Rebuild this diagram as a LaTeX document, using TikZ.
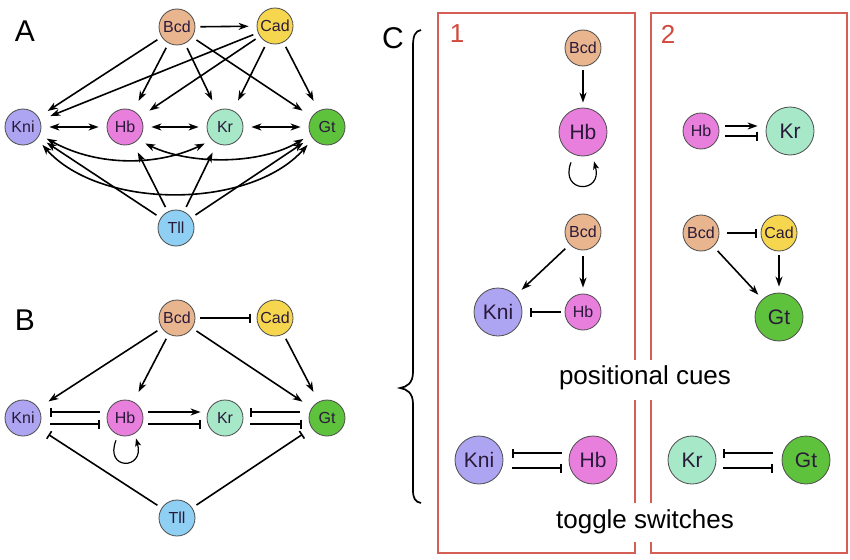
\documentclass[tikz,border=0pt]{standalone}
\usepackage{fontspec}
\setmainfont{Liberation Sans}
\usetikzlibrary{arrows.meta,calc}
\definecolor{bcdc}{HTML}{E9B58F}
\definecolor{cadc}{HTML}{F6D64E}
\definecolor{knic}{HTML}{ADA5F2}
\definecolor{hbc}{HTML}{E87FDD}
\definecolor{krc}{HTML}{A6E8C8}
\definecolor{gtc}{HTML}{5EC23C}
\definecolor{tllc}{HTML}{8ECFF3}
\definecolor{boxc}{HTML}{D65F55}
\definecolor{numc}{HTML}{D24A3E}
\definecolor{txtc}{HTML}{2A1A3A}
\tikzset{
  gn/.style={circle,draw=black!70,line width=0.8pt,minimum size=36pt,inner sep=0pt,
    font=\fontsize{16}{16}\selectfont,text=txtc},
  bign/.style={gn,minimum size=48pt,font=\fontsize{21}{21}\selectfont},
  mytip/.tip={Stealth[length=10pt,width=7pt,inset=3pt]},
  act/.style={line width=1.6pt,-mytip,shorten >=10pt,shorten <=5pt},
  dbl/.style={line width=1.6pt,mytip-mytip,shorten >=8pt,shorten <=8pt},
  inh/.style={line width=1.6pt,-{Bar[width=9pt,line width=1.6pt]}},
  lbl/.style={font=\fontsize{30}{30}\selectfont},
  num/.style={font=\fontsize{26}{26}\selectfont,text=numc},
  captxt/.style={font=\fontsize{26}{26}\selectfont},
  boxline/.style={draw=boxc,line width=1.5pt},
  loopl/.style={line width=1.2pt,-{Stealth[length=8pt,width=6pt,inset=2pt]}},
}
\begin{document}
\begin{tikzpicture}[x=1pt,y=-1pt]
\useasboundingbox (0,0) rectangle (850,559);
\fill[white] (0,0) rectangle (850,559);

% ---------- Panel A ----------
\node[lbl] (la) at (25,31) {A};
\node[gn,fill=bcdc] (aBcd) at (177,27) {Bcd};
\node[gn,fill=cadc] (aCad) at (275,26) {Cad};
\node[gn,fill=knic] (aKni) at (23,127) {Kni};
\node[gn,fill=hbc]  (aHb)  at (125,127) {Hb};
\node[gn,fill=krc]  (aKr)  at (225,127) {Kr};
\node[gn,fill=gtc]  (aGt)  at (327,127) {Gt};
\node[gn,fill=tllc] (aTll) at (176,228) {Tll};

\draw[act,shorten >=8pt] (aBcd) -- (aCad);
\foreach \t in {aKni,aHb,aKr,aGt}{
  \draw[act,shorten >=11pt] (aBcd) -- (\t);
  \draw[act,shorten >=11pt] (aCad) -- (\t);
  \draw[act] (aTll) -- (\t);
}
\draw[dbl] (aKni) -- (aHb);
\draw[dbl] (aHb) -- (aKr);
\draw[dbl] (aKr) -- (aGt);
\draw[dbl] (aKni.-25) .. controls (100,168) and (160,165) .. (aKr.-135);
\draw[dbl] (aHb.-45) .. controls (190,165) and (260,165) .. (aGt.-155);
\draw[dbl] (aKni.-40) .. controls (100,210) and (250,210) .. (aGt.-140);

% ---------- Panel B ----------
\node[lbl] (lb) at (25,320) {B};
\node[gn,fill=bcdc] (bBcd) at (177,318) {Bcd};
\node[gn,fill=cadc] (bCad) at (275,318) {Cad};
\node[gn,fill=knic] (bKni) at (23,418) {Kni};
\node[gn,fill=hbc]  (bHb)  at (125,418) {Hb};
\node[gn,fill=krc]  (bKr)  at (225,418) {Kr};
\node[gn,fill=gtc]  (bGt)  at (327,418) {Gt};
\node[gn,fill=tllc] (bTll) at (177,518) {Tll};

\draw[inh,shorten <=5pt,shorten >=6pt] (bBcd) -- (bCad);
\draw[act,shorten >=12pt] (bBcd) -- (bKni);
\draw[act,shorten >=11pt] (bBcd) -- (bHb);
\draw[act,shorten >=11pt] (bBcd) -- (bGt);
\draw[act,shorten >=11pt] (bCad) -- (bGt);
\draw[inh,shorten <=5pt,shorten >=12pt] (bTll) -- (bKni);
\draw[inh,shorten <=5pt,shorten >=11pt] (bTll) -- (bGt);
% Kni - Hb
\draw[inh] ([xshift=-7pt,yshift=6pt]bHb.west) -- ([xshift=9pt,yshift=6pt]bKni.east);
\draw[inh] ([xshift=9pt,yshift=-6pt]bKni.east) -- ([xshift=-7pt,yshift=-6pt]bHb.west);
% Hb - Kr
\draw[line width=1.6pt,-mytip] ([xshift=5pt,yshift=6pt]bHb.east) -- ([xshift=-6pt,yshift=6pt]bKr.west);
\draw[inh] ([xshift=5pt,yshift=-6pt]bHb.east) -- ([xshift=-6pt,yshift=-6pt]bKr.west);
% Kr - Gt
\draw[inh] ([xshift=-9pt,yshift=6pt]bGt.west) -- ([xshift=7pt,yshift=6pt]bKr.east);
\draw[inh] ([xshift=7pt,yshift=-6pt]bKr.east) -- ([xshift=-7pt,yshift=-6pt]bGt.west);
% self loop
\draw[loopl]
  ([xshift=-9pt,yshift=-4pt]bHb.south) .. controls +(-12,30) and +(9,32) .. ([xshift=11pt,yshift=-2pt]bHb.south);

% ---------- Panel C ----------
\node[lbl] (lc) at (393,38) {C};
\draw[line width=1.7pt] (421,30) .. controls (415,31) and (413,36) .. (413,46) -- (413,372)
  .. controls (413,383) and (407,387) .. (400,388) .. controls (407,389) and (413,393) .. (413,404)
  -- (413,490) .. controls (413,498) and (415,502) .. (421,503);

% boxes
\draw[boxline] (635,360) -- (635,13) -- (438,13) -- (438,553) -- (635,553) -- (635,542);
\draw[boxline] (635,400) -- (635,503);
\draw[boxline] (651,360) -- (651,13) -- (847,13) -- (847,553) -- (651,553) -- (651,542);
\draw[boxline] (651,400) -- (651,503);
\node[num] (n1) at (457,34) {1};
\node[num] (n2) at (668,34) {2};

% box 1
\node[gn,fill=bcdc] (c1Bcd) at (583,48) {Bcd};
\node[bign,fill=hbc] (c1Hb) at (583,132) {Hb};
\draw[act,shorten <=4pt,shorten >=5pt] (c1Bcd) -- (c1Hb);
\draw[loopl]
  ([xshift=-12pt,yshift=-6pt]c1Hb.south) .. controls +(-12,31) and +(9,33) .. ([xshift=11pt,yshift=-5pt]c1Hb.south);

\node[gn,fill=bcdc] (c1Bcd2) at (583,232) {Bcd};
\node[bign,fill=knic] (c1Kni) at (498,312) {Kni};
\node[gn,fill=hbc] (c1Hb2) at (583,312) {Hb};
\draw[act,shorten <=6pt,shorten >=8pt] (c1Bcd2) -- (c1Kni);
\draw[act,shorten <=6pt,shorten >=6pt] (c1Bcd2) -- (c1Hb2);
\draw[inh,shorten <=4pt,shorten >=8pt] (c1Hb2) -- (c1Kni);

% box 2
\node[gn,fill=hbc] (c2Hb) at (701,131) {Hb};
\node[bign,fill=krc] (c2Kr) at (790,131) {Kr};
\draw[line width=1.6pt,-mytip] ([xshift=6pt,yshift=5pt]c2Hb.east) -- ([xshift=-8pt,yshift=5pt]c2Kr.west);
\draw[inh] ([xshift=6pt,yshift=-5pt]c2Hb.east) -- ([xshift=-8pt,yshift=-5pt]c2Kr.west);

\node[gn,fill=bcdc] (c2Bcd) at (701,233) {Bcd};
\node[gn,fill=cadc] (c2Cad) at (779,233) {Cad};
\node[bign,fill=gtc] (c2Gt) at (779,317) {Gt};
\draw[inh,shorten <=8pt,shorten >=4pt] (c2Bcd) -- (c2Cad);
\draw[act,shorten <=6pt,shorten >=6pt] (c2Bcd) -- (c2Gt);
\draw[act,shorten <=4pt,shorten >=6pt] (c2Cad) -- (c2Gt);

\node[captxt] (pc) at (645,378) {positional cues};

% toggles
\node[bign,fill=knic] (t1Kni) at (479,460) {Kni};
\node[bign,fill=hbc] (t1Hb) at (593,460) {Hb};
\draw[inh] ([xshift=-7pt,yshift=7pt]t1Hb.west) -- ([xshift=9pt,yshift=7pt]t1Kni.east);
\draw[inh] ([xshift=9pt,yshift=-8pt]t1Kni.east) -- ([xshift=-7pt,yshift=-8pt]t1Hb.west);

\node[bign,fill=krc] (t2Kr) at (692,460) {Kr};
\node[bign,fill=gtc] (t2Gt) at (806,460) {Gt};
\draw[inh] ([xshift=-9pt,yshift=7pt]t2Gt.west) -- ([xshift=7pt,yshift=7pt]t2Kr.east);
\draw[inh] ([xshift=7pt,yshift=-8pt]t2Kr.east) -- ([xshift=-9pt,yshift=-8pt]t2Gt.west);

\node[captxt] (ts) at (645,522) {toggle switches};
\end{tikzpicture}
\end{document}
